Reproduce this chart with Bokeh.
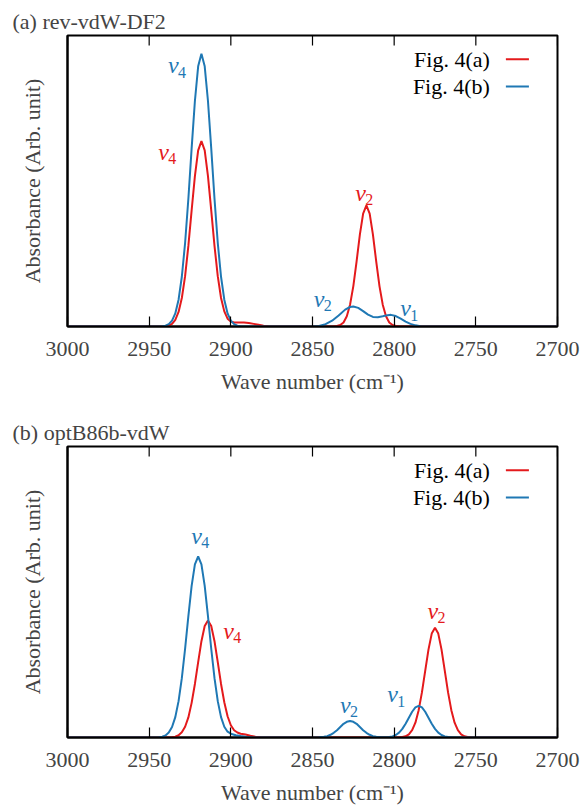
from bokeh.plotting import figure
from bokeh.models import Range1d, FixedTicker, ColumnDataSource, LinearAxis
from bokeh.layouts import column
from bokeh.embed import file_html
from bokeh.resources import INLINE
from bokeh.core.properties import value

FONT = "Liberation Serif"
RED = "#e41a1c"
BLUE = "#1f78b4"

x_ticks = [3000, 2950, 2900, 2850, 2800, 2750, 2700]
series_names = ["Fig. 4(a)", "Fig. 4(b)"]

# ---- panel (a) rev-vdW-DF2 ----
a_red_x = [3000, 2945, 2942, 2940, 2938, 2936, 2934, 2932, 2930, 2928, 2926, 2924, 2922, 2920,
           2918, 2916, 2914, 2912, 2910, 2908, 2906, 2904, 2902, 2900, 2898, 2895, 2892, 2889,
           2886, 2883, 2880, 2877, 2873, 2840, 2837, 2835, 2833, 2831, 2829, 2827, 2825, 2823,
           2821, 2819, 2817, 2815, 2813, 2811, 2809, 2807, 2805, 2803, 2801, 2799, 2797, 2795, 2700]
a_red_y = [0, 0, 0.0004, 0.0012, 0.0035, 0.009, 0.023, 0.050, 0.098, 0.173, 0.277, 0.399, 0.517, 0.605,
           0.637, 0.605, 0.517, 0.399, 0.277, 0.173, 0.098, 0.052, 0.027, 0.017, 0.014, 0.014, 0.014, 0.012,
           0.009, 0.006, 0.003, 0.001, 0, 0, 0.0002, 0.0016, 0.005, 0.014, 0.035, 0.075, 0.139, 0.224,
           0.316, 0.388, 0.416, 0.388, 0.316, 0.224, 0.139, 0.075, 0.035, 0.014, 0.005, 0.0016, 0.0002, 0, 0]
a_blue_x = [3000, 2946, 2942, 2940, 2938, 2936, 2934, 2932, 2930, 2928, 2926, 2924, 2922, 2920,
            2918, 2916, 2914, 2912, 2910, 2908, 2906, 2904, 2902, 2900, 2898, 2896, 2894, 2890,
            2850, 2846, 2842, 2838, 2834, 2830, 2827, 2825, 2822, 2819, 2816, 2813, 2810, 2807,
            2804, 2802, 2799, 2796, 2793, 2790, 2787, 2784, 2780, 2700]
a_blue_y = [0, 0, 0.001, 0.003, 0.008, 0.020, 0.045, 0.092, 0.171, 0.287, 0.439, 0.612, 0.775, 0.894,
            0.937, 0.894, 0.775, 0.612, 0.439, 0.287, 0.171, 0.092, 0.045, 0.020, 0.008, 0.003, 0.001, 0,
            0, 0.002, 0.008, 0.020, 0.038, 0.058, 0.067, 0.069, 0.064, 0.053, 0.041, 0.033, 0.032, 0.035,
            0.039, 0.040, 0.036, 0.027, 0.017, 0.009, 0.004, 0.001, 0, 0]
a_label_x = [2938.5, 2944.5, 2823.9, 2849.3, 2796.2]
a_label_y = [0.897, 0.599, 0.460, 0.095, 0.062]
a_label_sub = ["4", "4", "2", "2", "1"]
a_label_series = [1, 0, 0, 1, 1]

# ---- panel (b) optB86b-vdW ----
b_red_x = [3000, 2940, 2936, 2934, 2932, 2930, 2928, 2926, 2924, 2922, 2920, 2918, 2916, 2914,
           2912, 2910, 2908, 2906, 2904, 2902, 2900, 2898, 2896, 2894, 2891, 2888, 2885, 2882, 2878,
           2802, 2799, 2797, 2795, 2793, 2791, 2789, 2787, 2785, 2783, 2781, 2779, 2777, 2775,
           2773, 2771, 2769, 2767, 2765, 2763, 2761, 2759, 2757, 2755, 2753, 2750, 2700]
b_red_y = [0, 0, 0.001, 0.003, 0.0077, 0.018, 0.037, 0.069, 0.119, 0.184, 0.259, 0.331, 0.383, 0.402,
           0.383, 0.331, 0.259, 0.184, 0.121, 0.073, 0.042, 0.025, 0.017, 0.013, 0.010, 0.006, 0.003, 0.001, 0,
           0, 0.0002, 0.0005, 0.0015, 0.0042, 0.011, 0.025, 0.051, 0.094, 0.155, 0.229, 0.302, 0.357, 0.377,
           0.357, 0.302, 0.229, 0.155, 0.094, 0.051, 0.025, 0.011, 0.0042, 0.0015, 0.0005, 0.0001, 0]
b_blue_x = [3000, 2946, 2944, 2942, 2940, 2938, 2936, 2934, 2932, 2930, 2928, 2926, 2924, 2922, 2920,
            2918, 2916, 2914, 2912, 2910, 2908, 2906, 2904, 2902, 2900, 2897, 2894, 2890, 2886,
            2850, 2846, 2843, 2841, 2839, 2837, 2835, 2833, 2831, 2829, 2827, 2825, 2823, 2821, 2819,
            2817, 2815, 2813, 2811, 2808, 2805, 2803, 2801, 2799, 2797, 2795, 2793, 2791, 2789, 2787,
            2785, 2783, 2781, 2779, 2777, 2775, 2773, 2771, 2769, 2767, 2764, 2760, 2700]
b_blue_y = [0, 0, 0.001, 0.0029, 0.0072, 0.017, 0.036, 0.070, 0.125, 0.204, 0.305, 0.417, 0.521, 0.595, 0.622,
            0.595, 0.521, 0.417, 0.305, 0.204, 0.125, 0.070, 0.037, 0.020, 0.013, 0.008, 0.005, 0.002, 0,
            0, 0.0006, 0.0023, 0.0048, 0.0093, 0.016, 0.025, 0.036, 0.047, 0.054, 0.057, 0.054, 0.047, 0.036, 0.025,
            0.016, 0.0093, 0.0048, 0.0023, 0.001, 0.001, 0.0016, 0.0039, 0.0085, 0.0168, 0.0296, 0.0474, 0.0682, 0.0885, 0.1034,
            0.109, 0.1034, 0.0885, 0.0682, 0.0474, 0.0296, 0.0168, 0.0085, 0.0039, 0.0016, 0.0003, 0, 0]
b_label_x = [2924.2, 2904.7, 2833.1, 2804.2, 2779.6]
b_label_y = [0.692, 0.365, 0.113, 0.148, 0.434]
b_label_sub = ["4", "4", "2", "1", "2"]
b_label_series = [1, 0, 1, 1, 0]

COLORS = [RED, BLUE]
FRAME_W = 490
FRAME_H = 291
X_PER_PX = 300.0 / FRAME_W
Y_PER_PX = 1.0 / FRAME_H


def make_panel(title, height, red_x, red_y, blue_x, blue_y, lx, ly, lsub, lser):
    p = figure(width=581, height=height, x_range=Range1d(3000, 2700), y_range=Range1d(0, 1),
               output_backend="svg", toolbar_location=None,
               min_border_left=67, min_border_right=24, min_border_top=35,
               min_border_bottom=height - 35 - FRAME_H)
    p.background_fill_color = "white"
    p.border_fill_color = "white"
    p.outline_line_color = "black"
    p.outline_line_width = 2
    p.grid.visible = False

    # bottom and left axes (grab them before any extra axis is added)
    xa = p.below[0]
    ya = p.left[0]

    xa.ticker = FixedTicker(ticks=x_ticks)
    xa.major_tick_in = 10
    xa.major_tick_out = 0
    xa.minor_tick_line_color = None
    xa.axis_line_width = 2
    xa.major_tick_line_width = 1.2
    xa.major_label_text_font = FONT
    xa.major_label_text_font_size = "22px"
    xa.major_label_standoff = 15
    xa.axis_label = "Wave number (cm\u207b\u00b9)"
    xa.axis_label_text_font = FONT
    xa.axis_label_text_font_size = "22px"
    xa.axis_label_text_font_style = "normal"
    xa.axis_label_standoff = 10

    ya.ticker = FixedTicker(ticks=[])
    ya.major_tick_out = 0
    ya.minor_tick_line_color = None
    ya.axis_line_width = 2
    ya.major_label_standoff = 0
    ya.axis_label = "Absorbance (Arb. unit)"
    ya.axis_label_text_font = FONT
    ya.axis_label_text_font_size = "22px"
    ya.axis_label_text_font_style = "normal"
    ya.axis_label_standoff = 23

    # invisible spacer axis above the frame, so the title sits near the top edge
    spacer = LinearAxis(ticker=FixedTicker(ticks=[]))
    spacer.axis_line_color = None
    spacer.major_tick_line_color = None
    spacer.minor_tick_line_color = None
    spacer.major_tick_in = 0
    spacer.major_tick_out = 10
    spacer.major_label_standoff = 0
    p.add_layout(spacer, "above")

    p.title.text = title
    p.title.text_font = FONT
    p.title.text_font_size = "22px"
    p.title.text_font_style = "normal"
    p.title.align = "left"
    p.title.vertical_align = "top"
    p.title.offset = -55
    p.title.standoff = 0

    # inward ticks along the top edge of the frame, at the x tick positions
    p.segment(x0=x_ticks, y0=[1.0] * len(x_ticks), x1=x_ticks,
              y1=[1.0 - 10 * Y_PER_PX] * len(x_ticks), line_color="black", line_width=1.2)

    p.line(red_x, red_y, line_color=RED, line_width=2)
    p.line(blue_x, blue_y, line_color=BLUE, line_width=2)

    # peak labels
    src = ColumnDataSource(dict(
        x=lx, y=ly, t=["\u03bd"] * len(lx), c=[COLORS[s] for s in lser],
        sx=[v - 10 * X_PER_PX for v in lx], sy=[v - 6.6 * Y_PER_PX for v in ly], st=lsub))
    p.text(x="x", y="y", text="t", text_color="c", source=src, text_font=value(FONT),
           text_font_style="italic", text_font_size="24px", text_baseline="alphabetic", text_align="left")
    p.text(x="sx", y="sy", text="st", text_color="c", source=src, text_font=value(FONT),
           text_font_size="16px", text_baseline="alphabetic", text_align="left")

    # legend (text left of sample line)
    leg_y = [0.918, 0.825]
    leg_text_x = 2741.4
    leg_line_x0 = 2731.6
    leg_line_x1 = 2717.5
    p.text(x=[leg_text_x] * 2, y=leg_y, text=series_names, text_font=value(FONT),
           text_font_size="22px", text_baseline="middle", text_align="right", text_color="black")
    p.segment(x0=[leg_line_x0] * 2, y0=leg_y, x1=[leg_line_x1] * 2, y1=leg_y,
              line_color=COLORS, line_width=2)
    return p


p1 = make_panel("(a) rev-vdW-DF2", 411, a_red_x, a_red_y, a_blue_x, a_blue_y,
                a_label_x, a_label_y, a_label_sub, a_label_series)
p2 = make_panel("(b) optB86b-vdW", 398, b_red_x, b_red_y, b_blue_x, b_blue_y,
                b_label_x, b_label_y, b_label_sub, b_label_series)

layout = column(p1, p2, spacing=0)
open("out.html", "w").write(file_html(layout, INLINE))
